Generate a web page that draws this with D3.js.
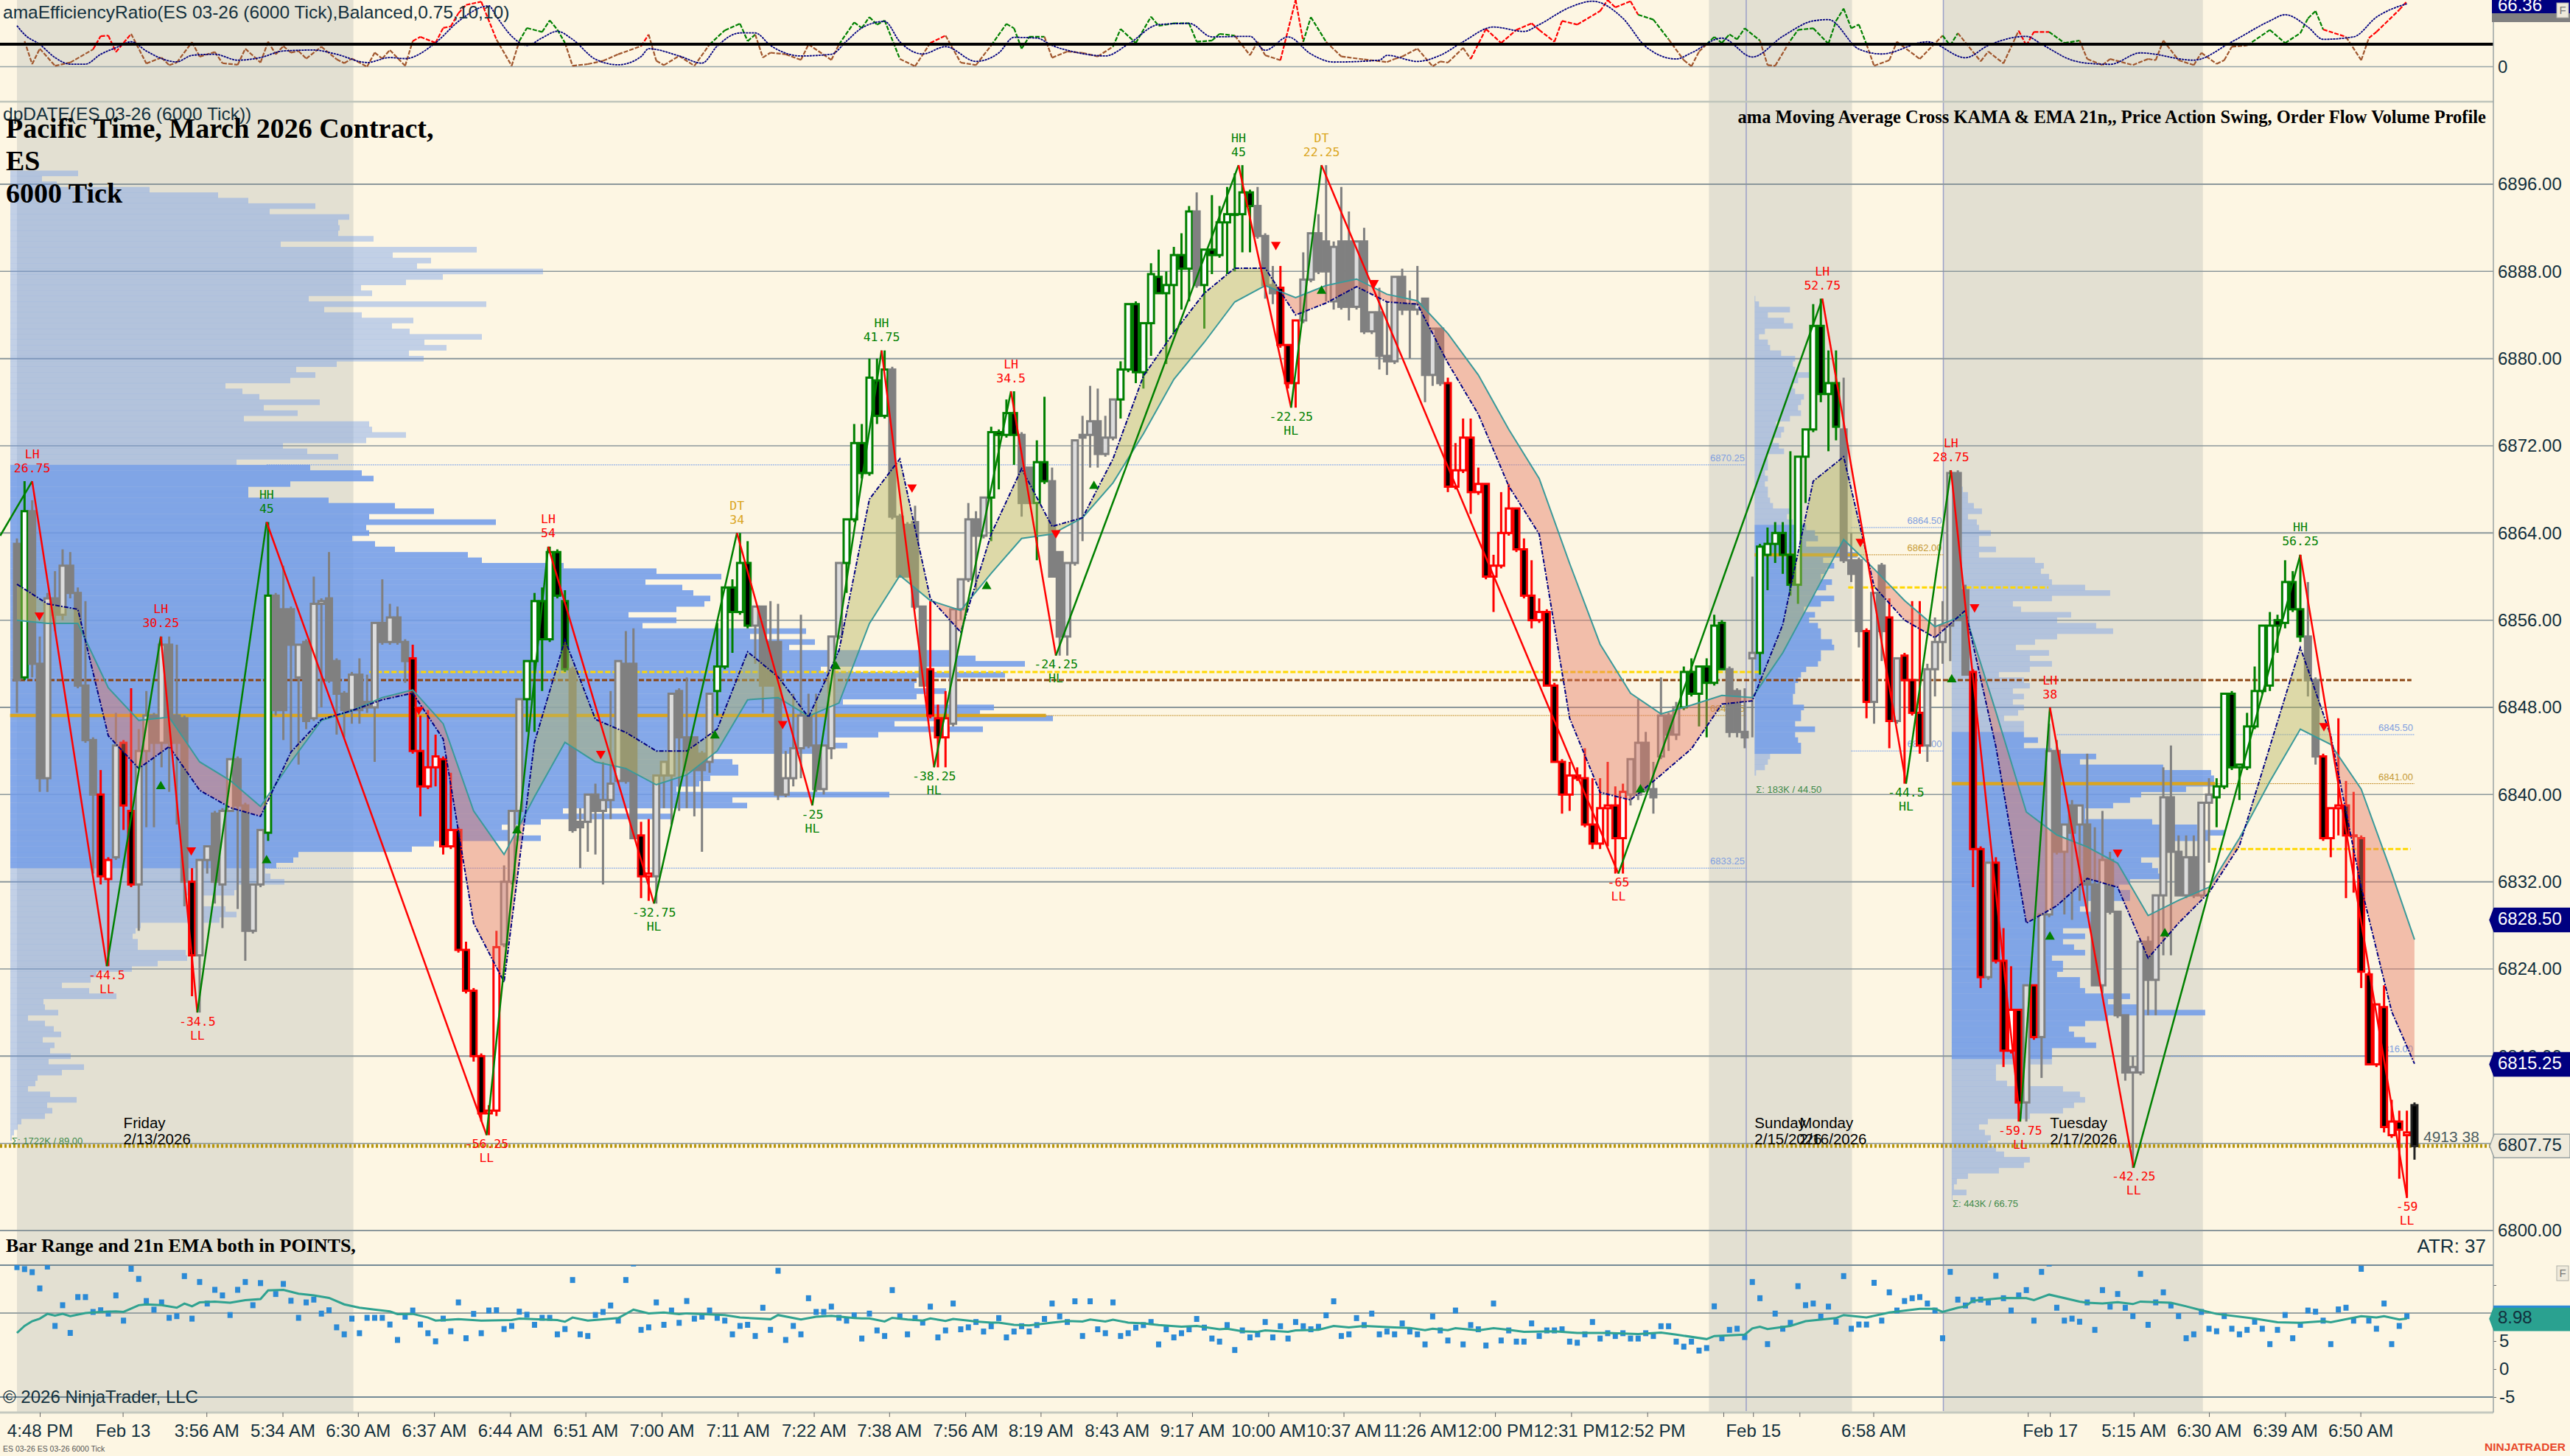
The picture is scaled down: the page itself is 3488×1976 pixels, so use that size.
<!DOCTYPE html>
<html>
<head>
<meta charset="utf-8">
<title>ES 03-26 6000 Tick</title>
<script src="https://cdn.jsdelivr.net/npm/d3@7"></script>
<style>
  body { margin: 0; background: #fdf6e3; }
  svg { display: block; font-family: "Liberation Sans", Arial, sans-serif; }
</style>
</head>
<body>
<svg id="chart" width="3488" height="1976"></svg>
<script>
//Candles: open, high, low, close, trend (n neutral, g up swing, r down swing, k live bar)
const candles = [
[6863,6863.5,6847.5,6850.5,"n"],[6850.75,6868.75,6850.5,6866,"g"],[6866,6867,6850.75,6852,"n"],[6852,6854.5,6840.25,6841.5,"n"],[6841.5,6858.5,6840.25,6858,"n"],
[6858,6860.5,6855,6856.5,"n"],[6856.5,6862.5,6856,6861,"n"],[6861,6862.25,6858,6858.5,"n"],[6858.5,6859,6849.75,6850,"n"],[6850,6857.75,6844.75,6845,"n"],
[6845,6845.25,6832.75,6840,"n"],[6840,6842.25,6831.75,6832.5,"r"],[6832.25,6834.25,6824.25,6834,"r"],[6834.25,6847.5,6834,6844.5,"n"],[6844.75,6845,6836.75,6839,"r"],
[6838.5,6849.75,6831.5,6831.75,"r"],[6831.75,6846,6827.5,6844,"n"],[6844,6849.5,6837,6847.25,"n"],[6847.25,6847.5,6837,6844.75,"n"],[6844.75,6854.5,6842.5,6853.75,"n"],
[6853.75,6854.5,6840.25,6844.75,"n"],[6847.25,6853.75,6837.25,6844.75,"n"],[6847,6847.25,6829.75,6832,"n"],[6832,6833.25,6821.5,6825.25,"r"],[6825.25,6834,6820,6834,"n"],
[6834,6835.25,6832.75,6835.25,"n"],[6838.25,6838.5,6830,6832,"n"],[6831.75,6838.75,6827.75,6838.5,"n"],[6838.5,6843.25,6838.5,6843.25,"n"],[6843.25,6843.5,6829.5,6839,"n"],
[6839,6839.25,6824.75,6827.5,"n"],[6827.5,6831.75,6827.25,6831.75,"n"],[6831.75,6836.75,6831.5,6836.75,"n"],[6836.5,6865,6835.75,6858.25,"g"],[6858.25,6858.5,6847.25,6847.75,"n"],
[6857,6861,6845,6847.75,"n"],[6857,6857.25,6844,6853.75,"n"],[6850.75,6853.75,6842.75,6853.75,"n"],[6854,6854.25,6846,6846.75,"n"],[6847,6860,6846.75,6857.5,"n"],
[6857.5,6858,6848,6857.75,"n"],[6858,6862.25,6850.25,6850.5,"n"],[6852.25,6852.5,6845.5,6849.25,"n"],[6849.25,6849.5,6845.25,6847.75,"n"],[6847.75,6851.25,6846.5,6851,"n"],
[6851,6852.5,6846.5,6847.75,"n"],[6848.5,6851,6847.5,6848,"n"],[6848,6855.75,6843,6855.75,"n"],[6855.75,6859.75,6853.75,6854,"n"],[6854,6857.5,6853.75,6856.25,"n"],
[6856.25,6857.25,6853.75,6854,"n"],[6854,6854.25,6850.25,6852.25,"n"],[6852.5,6853.75,6843.75,6844,"r"],[6844,6847.25,6838,6840.75,"r"],[6840.75,6847.75,6840.5,6842.5,"r"],
[6842.5,6845.5,6840.75,6843.5,"r"],[6843.25,6843.5,6834.5,6835.25,"r"],[6835.25,6842,6835,6836.75,"r"],[6836.75,6837,6825.5,6825.75,"r"],[6825.75,6826.5,6821.75,6822,"r"],
[6822,6822.25,6815.5,6816,"r"],[6816,6816.25,6810,6810.75,"r"],[6810.75,6811.5,6808.75,6811,"r"],[6811,6827.5,6810.5,6826,"r"],[6826.25,6833.5,6826,6832,"n"],
[6832,6838.5,6831.75,6838.5,"n"],[6838.5,6848.75,6836.75,6848.75,"n"],[6848.75,6852.25,6845.75,6852.25,"g"],[6852.25,6858.5,6845.75,6857.75,"g"],[6857.75,6859,6849.5,6854.25,"g"],
[6854.25,6862.75,6854,6862.25,"g"],[6862.25,6862.5,6858,6858.25,"g"],[6857.75,6858.75,6851.25,6851.5,"g"],[6851.5,6851.75,6836.5,6836.75,"n"],[6837.5,6838.75,6833.25,6837,"n"],
[6837.5,6840,6834.75,6840,"n"],[6840,6841,6834.5,6838.5,"n"],[6838.5,6843,6831.75,6839.5,"n"],[6839.5,6849.5,6837.75,6841,"n"],[6841.25,6852.25,6841,6852.25,"n"],
[6852,6855,6841,6841.25,"n"],[6852,6855.25,6836,6836,"n"],[6836.25,6837.5,6830.5,6832.5,"r"],[6832.5,6837.75,6830.25,6832.75,"r"],[6832.5,6841.75,6830,6841.75,"n"],
[6841.75,6843,6838.75,6843,"n"],[6841.75,6849.25,6837.25,6849.25,"n"],[6849.5,6849.75,6838.5,6845.25,"n"],[6845.25,6850.75,6838.75,6842.25,"n"],[6845.25,6845.25,6838,6842.25,"n"],
[6843.75,6844,6834.75,6842.25,"n"],[6843,6849.25,6842,6849.25,"n"],[6849.5,6855.75,6847.25,6851.75,"g"],[6851.75,6859,6851.5,6859,"g"],[6859,6859.75,6853,6856.75,"g"],
[6856.75,6864,6856.5,6861.25,"g"],[6861.25,6863.25,6855.25,6855.5,"g"],[6855.5,6857.25,6852,6857.25,"n"],[6857.25,6857.25,6847.5,6850,"n"],[6854,6857.75,6850,6850,"n"],
[6854,6857.5,6839.5,6840,"n"],[6840,6844,6839.75,6841.5,"n"],[6841.5,6849.25,6840.75,6844.25,"n"],[6844.25,6856.5,6841.5,6847.25,"n"],[6847.25,6849.25,6844.25,6844.5,"n"],
[6844.5,6849.25,6840.25,6840.5,"n"],[6840.5,6844.5,6840,6844.5,"n"],[6844.25,6854.5,6843.25,6854.5,"n"],[6854.5,6861.25,6854.25,6861.25,"n"],[6861.25,6865.25,6858.5,6865.25,"g"],
[6865.25,6874,6865,6872.25,"g"],[6872.25,6874,6869,6869.5,"g"],[6869.5,6880,6869.25,6878.25,"g"],[6878,6880,6874,6874.75,"g"],[6874.75,6880.75,6874.5,6879,"g"],
[6879,6879.25,6865.25,6865.5,"n"],[6865.5,6865.75,6860,6860,"n"],[6864.75,6865,6860,6860,"n"],[6865,6866.5,6857,6857.25,"n"],[6857.25,6857.25,6850,6850,"n"],
[6851.5,6857.75,6847,6847.25,"r"],[6847,6848.25,6842.5,6845.25,"r"],[6845.25,6849.5,6842.5,6847,"r"],[6846.5,6857,6846.25,6857,"n"],[6857,6859.75,6856,6859.75,"n"],
[6859.75,6866.75,6859.5,6865.25,"n"],[6865.25,6866,6858.75,6863.75,"n"],[6863.75,6867.25,6863.5,6867.25,"n"],[6867.25,6873.75,6863.25,6873.25,"g"],[6873.25,6873.5,6868,6873,"g"],
[6873,6876.25,6872.75,6875,"g"],[6875,6877,6870.25,6873,"g"],[6873,6873.25,6865.5,6866.75,"n"],[6870,6870,6866.75,6866.75,"n"],[6866.75,6872.5,6861.5,6870.5,"g"],
[6870.5,6876.5,6868.5,6868.75,"g"],[6868.75,6870,6860,6860,"n"],[6862.25,6862.25,6852.75,6854.5,"n"],[6854.5,6861.25,6852.75,6861.25,"n"],[6861.25,6872.5,6861,6872.5,"n"],
[6873,6874.75,6863.25,6872.75,"n"],[6873,6877.5,6870,6874.25,"n"],[6874.25,6877.25,6870,6871.25,"n"],[6871.25,6874.75,6871,6872.75,"n"],[6872.75,6876.25,6872.5,6876.25,"n"],
[6876.25,6879.75,6874.5,6879,"g"],[6879,6885,6878.75,6885,"g"],[6885,6885.25,6877.75,6878.75,"g"],[6878.75,6883.25,6877.25,6883.25,"g"],[6883.25,6888.75,6880.25,6887.75,"g"],
[6887.5,6890,6886,6886,"g"],[6886,6888,6879.5,6886.75,"g"],[6886.75,6890.25,6882.25,6889.5,"g"],[6889.5,6891.5,6884.5,6888.25,"g"],[6888.25,6894,6885.25,6893.5,"g"],
[6893.5,6895.25,6886.5,6886.75,"n"],[6886.75,6890,6882.75,6890,"g"],[6890,6895,6887.75,6889.5,"g"],[6889.5,6894,6889.25,6892.5,"g"],[6892.5,6895.75,6887.75,6893.25,"g"],
[6893.25,6897,6888,6893.25,"g"],[6893.25,6897.75,6889.75,6895.25,"g"],[6895.25,6895.5,6889.75,6894,"g"],[6894,6895.75,6891,6891.25,"n"],[6891.25,6891.5,6885.5,6886.75,"n"],
[6886.75,6888.5,6885,6886,"n"],[6886.5,6888.5,6881,6881.25,"r"],[6881.25,6881.25,6877.25,6877.75,"r"],[6877.75,6883.5,6875.5,6883.5,"r"],[6883.5,6889.75,6883.25,6887.25,"n"],
[6887.25,6891.5,6887,6891.5,"n"],[6891.5,6893.25,6887.75,6888,"n"],[6890.75,6897.75,6885.25,6888,"n"],[6885.25,6890.75,6884.5,6890.25,"n"],[6890.75,6895.75,6884.5,6884.75,"n"],
[6890.75,6893.5,6883.5,6884.75,"n"],[6884.75,6890.75,6884.5,6890.75,"n"],[6890.75,6892,6882.25,6882.5,"n"],[6882.5,6884.25,6882.25,6884.25,"n"],[6884.25,6886.5,6879,6880.25,"n"],
[6880.25,6885.25,6878.5,6879.75,"n"],[6879.75,6887.5,6879.5,6887.5,"n"],[6887.5,6888.25,6884,6884.5,"n"],[6885,6886.25,6880,6884.5,"n"],[6884.5,6888.5,6884,6885,"n"],
[6885.5,6885.5,6876,6878.5,"n"],[6878.5,6882.75,6877.5,6882.75,"n"],[6882.75,6882.75,6877.5,6877.75,"n"],[6877.75,6878.25,6867.75,6868.25,"r"],[6868.25,6872.25,6868,6869.75,"r"],
[6869.75,6874.5,6869.5,6872.75,"r"],[6872.75,6874.5,6865.75,6867.75,"r"],[6867.75,6870,6867.5,6868.5,"r"],[6868.5,6868.5,6859.75,6860,"r"],[6860,6862,6856.75,6861,"r"],
[6861,6867.75,6860.75,6864,"r"],[6864,6868.5,6863.75,6866.25,"r"],[6866.25,6866.25,6862.25,6862.5,"r"],[6862.5,6863.5,6858,6858.25,"r"],[6858.25,6861.5,6855.25,6856,"r"],
[6856,6858,6855.75,6856.75,"r"],[6856.75,6857,6850,6850,"r"],[6850,6850.25,6843,6843,"r"],[6843,6843.25,6838.25,6840,"r"],[6840,6843,6838.5,6841.75,"r"],
[6841.75,6842.5,6841.25,6841.5,"r"],[6841.5,6844.25,6837,6837.25,"r"],[6837.25,6841.5,6835,6835.5,"r"],[6835.5,6841.5,6835,6838.75,"r"],[6838.75,6843,6835.25,6839,"r"],
[6839,6840.75,6832.75,6836,"r"],[6836,6841,6832.75,6840.25,"r"],[6840,6843.25,6839,6843.25,"n"],[6840,6848.75,6839.5,6844.75,"n"],[6844.75,6845.75,6840.25,6840.5,"n"],
[6840.5,6843,6838.25,6839.75,"n"],[6843.5,6850.75,6843.25,6847.25,"n"],[6847.25,6847.5,6844,6845.5,"n"],[6845.5,6848.5,6845,6848,"n"],[6848,6851.75,6847.75,6851.25,"g"],
[6851.25,6852.5,6849,6849.25,"g"],[6849.25,6851.75,6846.25,6851.75,"g"],[6851.75,6852.5,6845.25,6850.25,"g"],[6850.25,6856.5,6850,6855.5,"g"],[6855.75,6856,6851.5,6851.5,"g"],
[6851.5,6851.75,6845.25,6845.75,"n"],[6849.5,6849.75,6845.25,6845.75,"n"],[6845.75,6849.75,6844.25,6845.25,"n"],[6852.5,6860,6845.25,6853,"n"],[6853,6863,6851,6862.75,"g"],
[6862,6864.5,6858.75,6863,"g"],[6863,6865,6861.25,6864,"g"],[6864,6865,6860.25,6862,"g"],[6862,6871.5,6858.25,6859.25,"g"],[6859.25,6871,6857.5,6871,"g"],
[6871,6873.5,6866.75,6873.5,"g"],[6873.5,6885,6873.25,6883,"g"],[6883,6885.5,6876,6876.75,"g"],[6876.75,6880.75,6871.5,6877.75,"g"],[6877.75,6880.75,6872.5,6873.75,"g"],
[6873.5,6878.25,6861.25,6861.5,"n"],[6861.5,6864,6859.5,6860.25,"n"],[6861.5,6861.75,6853.5,6855,"n"],[6855,6855.25,6847,6848.5,"r"],[6848.5,6858.5,6846.5,6858.5,"n"],
[6861,6861.25,6852.25,6855,"n"],[6856.25,6858,6844.25,6846.75,"r"],[6846.75,6852.5,6846.5,6852.5,"n"],[6852.75,6853,6841,6850.5,"r"],[6850.5,6857.75,6847.25,6847.5,"r"],
[6847.5,6857.75,6843.75,6844.5,"r"],[6844.5,6852,6843,6851.5,"n"],[6851.5,6856.25,6849,6854,"n"],[6854,6857.75,6852,6855.5,"n"],[6855.5,6869.75,6852.25,6869.5,"n"],
[6869.5,6869.75,6856,6856,"n"],[6858.75,6859.25,6851,6851,"n"],[6851.25,6851.5,6831.5,6835,"r"],[6835,6835.25,6822.25,6823.25,"r"],[6823.25,6833.75,6823,6833.75,"n"],
[6833.75,6834.25,6824.5,6824.75,"r"],[6824.75,6827.75,6815,6816.5,"r"],[6816.5,6824.25,6816.25,6820.25,"r"],[6820.25,6820.25,6810,6811.75,"r"],[6811.75,6822.5,6810,6822.5,"n"],
[6822.5,6822.5,6817.5,6817.75,"r"],[6817.75,6829,6814,6829,"n"],[6829,6846.5,6828.75,6844,"n"],[6844,6845,6834.5,6834.75,"n"],[6834.75,6837.25,6829,6837.25,"n"],
[6839,6839.5,6828.5,6836.5,"n"],[6837.25,6839,6830.25,6839,"n"],[6837.25,6843.75,6829,6831.75,"n"],[6831.75,6837,6825.5,6822.5,"n"],[6822.5,6838.5,6821.75,6834,"n"],
[6834,6834.75,6829,6829.25,"n"],[6829.25,6829.25,6819.5,6819.75,"n"],[6819.75,6819.75,6813.75,6814.5,"n"],[6814.5,6816,6805.75,6815,"n"],[6814.5,6826.5,6814.25,6826.5,"n"],
[6826.5,6827,6819.75,6823,"n"],[6823,6830.75,6819.75,6830.75,"n"],[6830.75,6842.5,6825.25,6839.75,"n"],[6839.75,6844.5,6825.25,6834.75,"n"],[6834.75,6836.25,6830.75,6830.75,"n"],
[6830.75,6836.25,6830.5,6834.25,"n"],[6834.25,6836.25,6830.5,6830.75,"n"],[6830.75,6839.25,6830.5,6839.25,"n"],[6839.25,6841.5,6833.75,6840,"n"],[6839.75,6841.5,6837,6840.75,"g"],
[6840.75,6849.25,6840.5,6849.25,"g"],[6849.25,6849.5,6842.25,6842.5,"g"],[6842.5,6842.75,6839.5,6842.75,"g"],[6842.5,6847.5,6842.25,6846.25,"g"],[6846.25,6851.75,6846,6849.5,"g"],
[6849.5,6855.5,6849.25,6855.5,"g"],[6850,6856.75,6849.5,6855.5,"g"],[6856,6856.5,6853,6855.5,"g"],[6855.75,6861.5,6855.25,6859.5,"g"],[6859.5,6860.5,6856.75,6857,"g"],
[6857,6862,6854,6854.5,"g"],[6854.5,6859.5,6849,6850.5,"n"],[6850.5,6850.75,6842.75,6843.5,"n"],[6843.5,6843.75,6835.75,6836,"r"],[6836,6838.75,6834.25,6838.75,"r"],
[6838.75,6847,6836.25,6839,"r"],[6839,6841.25,6830.5,6836.25,"r"],[6836.25,6840.25,6831,6836.25,"r"],[6836,6836.25,6822.25,6823.75,"r"],[6823.5,6823.75,6815.25,6815.25,"r"],
[6815.25,6820.75,6815,6820.75,"r"],[6820.5,6822.5,6809,6809.5,"r"],[6808.75,6812,6808.5,6810,"r"],[6810,6811,6804.75,6809.25,"r"],[6808.75,6811,6803,6809,"r"],
[6811.5,6811.75,6806.5,6807.75,"k"]
];

//KAMA and 21n EMA, read every fourth bar
const maBars = d3.range(0, 316, 4).concat([315]);
const kamaValues = [6859.3,6857.5,6857,6845.4,6842.4,6844.4,6840.4,6838.8,6838,6843.9,6846.9,6847.7,6848.7,6849.3,6845.1,6828.2,6822.8,6844.8,6854.2,6846.9,6845.7,6844,6844,6846,6853.1,6850.8,6847.1,6853.2,6867.1,6870.8,6858,6854.9,6863.9,6869.9,6864.6,6865.4,6870.8,6878.4,6882.4,6886,6888.3,6888.3,6884,6885.1,6886.6,6885.2,6885,6879.6,6874.9,6868.3,6863.9,6847,6840.2,6839.5,6841.8,6844.2,6848.3,6848.6,6855.6,6868.75,6871,6859.1,6856,6854.4,6856.9,6844.4,6828.2,6829.8,6832.3,6831.5,6825,6828.2,6831,6835.3,6844.4,6853.5,6845.4,6831.5,6820.1,6815.3];
const emaValues = [6856,6855.7,6855.7,6849.8,6846.8,6847.1,6843,6841.3,6838.9,6843,6846.8,6847.7,6848.9,6849.6,6846.5,6838.5,6834.5,6839.8,6844.8,6843,6842.4,6840.9,6841.8,6844,6848.7,6848.9,6847.2,6848.4,6855.7,6860.1,6857.8,6856.9,6860.3,6863.5,6863.9,6865.4,6868.6,6873.1,6878.1,6881.5,6885.2,6886.7,6885.6,6886.7,6887.3,6885.9,6885.3,6882.3,6878.5,6873.5,6869,6861.2,6853.8,6849.3,6847.4,6848.2,6849.1,6848.9,6853,6858.2,6863.4,6860.7,6857.8,6855.4,6856.5,6847.6,6838.4,6836.3,6835.2,6833.7,6828.9,6830.3,6831.5,6836,6841.2,6846,6844.6,6840.5,6832.8,6826.7];

//Price action swings
const swingBars = [2,11.8,18.9,23.7,32.8,61.7,69.8,83.7,94.6,104.5,113.6,120.5,130.6,136.5,160.5,167.4,171.4,210.4,237.2,248.2,254.1,263.2,267.1,278.1,300,314];
const swingPrices = [6868.75,6824.25,6854.5,6820,6865,6808.75,6862.75,6830,6864,6839,6880.75,6842.5,6877,6852.75,6897.75,6875.5,6897.75,6832.75,6885.5,6841,6869.75,6810,6848,6805.75,6862,6803];
const swingTags = ["LH","LL","LH","LL","HH","LL","LH","HL","DT","HL","HH","HL","LH","HL","HH","HL","DT","LL","LH","HL","LH","LL","LH","LL","HH","LL"];
const swingMoves = ["26.75","-44.5","30.25","-34.5","45","-56.25","54","-32.75","34","-25","41.75","-38.25","34.5","-24.25","45","-22.25","22.25","-65","52.75","-44.5","28.75","-59.75","38","-42.25","56.25","-59"];
const swingLeadIn = [-2.2, 6863.75];

//MA cross triangles
const crossDownBars = [2.95,22.9,52.8,76.7,100.6,117.6,136.5,165.4,178.3,242.2,257.2,276,303.1];
const crossDownPrices = [6856.45,6834.9,6847.8,6843.75,6846.5,6868.2,6864,6890.45,6886.95,6863.2,6857.2,6834.7,6846.3];
const crossUpBars = [18.9,32.8,65.7,91.7,107.6,141.5,127.4,171.4,213.3,254.2,267.1,282.2];
const crossUpPrices = [6840.75,6833.95,6836.7,6845.4,6851.75,6868.3,6859.1,6886.2,6840.45,6850.55,6826.95,6827.25];

//Order flow volume profiles, rows half a point apart
const profileOneTop = 6897;
const profileOneVolume = [9.2,4.3,6.3,18.9,28.2,32.3,41.4,35.2,46,44.5,44.7,44.5,49.3,36.7,63.3,51.9,57.1,55.2,72.3,58.7,53.7,47.6,49.1,40.5,64.6,42.6,47.7,54.7,51.8,54.2,64,56.2,59.2,54.1,56.1,44.3,38.8,41.4,38,29.2,31.5,33.8,42,34.4,39,31.7,48.7,49.1,53.7,48.3,37,40.3,44.5,30.7,40.7,47.7,49.3,38,32.3,32.3,43.2,52.2,57.5,
48.7,65.9,48.3,48.7,46.4,49.5,52.2,62.1,64,75.1,87.7,96.5,86.2,91.2,92.7,95,94.2,90.4,83.9,90.4,85.8,108,100.4,109.2,105.7,
128,131,137.7,110,135,123,122.7,127,123,113,133.5,131.6,141.5,120,132,117.8,111.6,113.6,109,94.2,98,98.8,98.8,95,93.5,90.4,119.3,98,100,75,89.6,72,66.7,67.5,72,57.5,54.5,39.1,38.4,36.1,34.6,
35.3,37.2,30.7,30.4,23.8,23.8,29.2,30.7,28.4,17.7,17,16.6,17.3,17.3,23.8,24,20,16.5,11.7,10.9,7,10.7,14.4,4.5,4.7,6.5,2.4,4.7,5.9,6.9,4.4,6,5.4,8.2,5.2,10,7,3.7,3.4,2.4,5.4,9,5,5.7,4.7,1.5,1,0.5,0.2];
const profileTwoTop = 6885.5;
const profileTwoVolume = [0.1,0.6,4.8,1.8,4,5.2,1.4,0.6,1.8,2.1,3.6,5.5,5.2,5.5,7.4,5.9,5.2,5.5,6.7,6.3,5.9,6.3,4.8,2.9,4,3.6,2.5,3.3,4,1.8,1.8,1.8,1.4,1.8,1.4,1.8,1.8,2.1,2.5,4.8,4.4,5.2,7,8.2,8.6,7,11.6,13.9,9.3,10.8,9.7,9,
10.5,9.7,8.2,10.8,9,6.7,8.2,7.4,8.6,9,9,10.5,10.8,9,9,8.6,7,6.3,5.9,5.5,5.5,5.2,5.2,6.7,6.3,6.3,5.5,8.2,5.5,5.9,6.3,6.3,2.1,1.8,1.4,0.2];
const profileThreeTop = 6868;
const profileThreeVolume = [1.5,2.2,2.2,3,4.1,2.2,3.4,3.7,5.3,3.7,3.7,6,3.7,11.3,12.5,12.1,13.2,13.6,18.1,21.5,13.6,8.3,9.4,16.2,14.3,19.6,21.9,14.3,11.3,8.7,13.2,10.6,13.6,10.6,6.4,9.8,10.6,8.3,9.8,8.3,9.8,9,7.1,9.8,9.8,9.8,
11.7,9.8,13.6,19.6,17.4,28.7,35.2,35.6,35.6,31.8,25.7,24.2,21.9,18.1,18.1,27.2,33.3,37.1,34.8,28.7,28.7,28.7,25.7,27.2,28,28.7,24.2,22.7,24.2,24.2,18.1,17.4,18.9,19.6,19.6,15.1,18.1,15.1,16.6,18.1,13.6,15.1,15.1,14.3,17.4,17.4,18.1,24.2,21.2,25.7,34.4,21.2,18.1,15.9,16.6,18.1,19.6,13.6,13.6,
13.6,6,6,6,7.5,15.1,17.4,18.1,16.6,15.1,10.6,4.9,3.7,4.5,5.3,4.9,6,7.1,10.6,9.8,6.4,2.2,0.7,0.3,2,0.1];
const profileOneArea = [6833.25, 6870.25];
const profileTwoArea = [6844, 6864.5];
const profileThreeArea = [6816, 6845.5];

//Bar range dots and its 21n EMA
const barRangeValues = [18.2,17.85,17.3,14.4,18.3,7.7,11.4,6.45,12.85,12.85,10.2,10.5,9.9,13.15,8.65,17.9,16.1,12.15,10.6,11.9,9.15,9.45,16.6,9,15.55,11.7,14.15,13.15,9.65,14.15,15.55,11.4,15.35,19.5,13.4,15.2,12.2,9.15,11.9,12.4,9.9,10.5,7.45,6.2,9,6.4,9.15,9.15,9.15,7.95,5.2,9.35,10.45,7.95,6.4,4.95,9,6.75,11.9,5.5,9.85,6.4,10.45,10.5,7.15,7.7,10.25,9.7,7.9,9.15,9.15,6.2,7.15,15.9,6.2,5.9,9.65,10.2,11.35,8.65,15.9,18.85,7,7.45,11.9,7.9,10.45,8.25,12.15,9,9.35,10.45,9.15,8.65,6.2,7.7,7.9,5.9,10.95,7,17.55,5.2,7.7,6.2,12.65,10.2,10.2,11.15,9.15,8.65,
9.6,5.45,9.9,6.9,5.9,14.1,9.4,6.2,9.1,8.3,11.15,5.65,6.9,11.7,7.1,7.45,8.4,6.7,7.65,9.1,5.65,6.7,7.65,6.7,7.85,8.95,11.7,9.4,8.4,12.1,5.9,12.1,7.1,6.4,11.9,5.9,6.4,7.4,7.85,8.4,4.4,7.1,5.65,6.4,7.1,8.95,7.4,5.45,4.9,7.85,3.4,6.9,5.65,6.2,8.4,5.65,7.65,5.45,8.4,7.65,7.1,7.55,9.6,12.1,5.9,6.2,9.1,7.85,9.9,6.2,6.7,6.2,8.15,6.7,6.2,4.4,9.4,6.9,5.1,10.45,4.4,7.85,7.1,4.2,11.7,5.1,6.9,4.9,4.9,8.15,5.9,6.9,6.9,7.1,4.9,4.7,6.2,8.4,5.45,6.4,5.9,6.4,5.45,5.45,6.4,5.9,7.65,7.65,4.9,4,4.9,
3.3,3.75,11.2,5.5,7,7.2,5.7,15.55,12.65,4.45,9.9,7.2,8.25,14.8,11.4,11.7,9.35,11.15,8.45,16.6,7.2,7.95,7.95,15.4,8.65,13.7,10.45,12.15,12.65,12.85,11.7,10.45,5.5,17.35,12.4,11.35,12.3,12.4,11.9,16.65,12.65,10.45,13.15,14.1,8.65,17.35,18.85,10.95,8.65,9,8.45,11.9,7,14.1,11.15,13.4,10.95,9.45,17,7.9,11.9,13.7,11.35,9.45,5.5,6.2,10.2,7.2,6.75,9.45,7.2,6.2,7,8.45,7.2,4.45,7,9.65,5.5,7.9,10.45,10.25,8.65,4.45,10.65,10.95,8.65,17.9,8.65,7.2,11.7,4.45,7.7,9.45];
const rangeEmaBars = [0,1,2,3,4,5,6,7,9,11,13,14,16,17,19,21,22,23,24,26,28,30,32,33,35,37,39,41,43,45,49,50,52,54,55,58,61,65,66,71,72,73,75,79,81,83,85,87,88,93,95,99,100,103,105,107,110,111,112,114,115,117,119,120,122,123,125,126,128,129,131,133,136,138,140,141,143,144,146,148,150,153,155,158,159,161,163,164,167,168,171,173,175,177,181,183,185,186,188,189,192,194,196,198,202,205,209,213,216,218,222,223,227,228,229,230,233,235,239,240,243,245,246,250,252,253,255,256,257,261,264,265,267,271,272,274,276,278,279,283,285,287,289,294,297,300,303,304,308,310,311,313,314];
const rangeEmaValues = [6.45,7.7,8.55,9,9.85,9.55,9.85,9.45,10,10.2,10.3,10.2,11.4,11.55,11.4,10.95,11.7,11.2,11.9,12.05,11.85,12.3,12.5,14.05,14.15,13.45,13.15,12.7,11.55,10.95,10.3,9.8,9.85,9.2,8.65,8.9,8.65,8.75,9,8.75,8.45,9.2,8.65,9.1,10.6,9.95,10.1,9.8,9.95,9.65,9.2,8.9,9.65,8.85,9.35,9.5,9.1,9.05,9.05,8.5,9.15,8.85,8.65,9.05,8.6,8.95,8.65,8.5,8.3,8.3,7.9,7.8,8.3,8.6,8.5,8.85,8.5,8.8,8.3,8.15,7.85,7.55,7.7,7.1,7.2,6.75,6.65,6.9,6.65,6.9,7,7.7,7.45,7.7,7.45,7.35,6.95,7.2,6.95,7.3,6.9,7.3,7,6.65,6.75,6.45,6.45,6.25,6.5,6.15,5.35,5.9,6.15,7.25,7.55,7.15,7.7,8.55,9.1,9.65,9.2,9.8,10.1,10.75,10.75,10.2,10.95,11.2,12.2,12.7,12.65,12.3,13.3,12.05,11.85,11.7,11.95,11.6,12.05,11.85,11.2,10.5,9.85,9,8.35,8.25,8.55,8.35,9.45,9.2,9.45,8.85,9];

//Efficiency ratio and its signal
const ratioBars = [1,2,3,5,7,10,11,12,13,15,17,19,20,21,23,24,26,27,29,30,32,33,34,35,36,37,38,40,42,43,44,46,47,48,49,51,52,53,55,56,57,58,59,61,63,65,66,67,69,70,71,72,73,75,77,79,82,83,84,85,87,89,91,93,95,96,97,98,99,101,103,104,107,108,110,111,112,113,114,116,118,120,122,124,126,128,130,131,132,133,135,136,138,140,142,144,145,147,149,150,152,154,155,157,158,160,162,163,164,166,168,169,170,172,174,177,180,181,182,184,186,187,188,190,191,193,195,197,199,200,202,203,205,208,209,210,212,213,215,217,219,220,221,222,223,224,225,226,227,229,230,231,233,234,236,238,239,240,241,242,243,244,246,247,250,253,254,255,258,259,261,263,264,265,267,269,271,272,274,275,278,280,281,282,284,286,287,289,290,291,293,296,298,300,301,302,303,306,308,309,310,313,314];
const ratioValues = [27.3,2.8,19.2,1,4.5,18.5,32.6,33.2,15.7,35,3.5,9.8,1.7,4.5,26.2,10.8,15.7,3.8,2.1,19.2,4.5,26.6,13.3,22,15,16.8,8.7,21.3,8,3.8,8.7,0,15,8.7,17.8,1,27.3,31.8,25.5,41.3,43,57,65.8,69.3,29,1,27.3,41.3,37,49.4,39.5,25.5,1,2.8,6.3,13.3,22,34.3,6.3,1.7,11.5,1,23.8,38.8,45.9,27.3,34.3,9.8,15,13.3,7.3,23.8,7.3,23.8,47.3,41.3,52.9,44.8,49.3,8.3,0.5,25.3,33.2,4.4,1.8,22.7,45.7,41,19.3,31.9,31.9,9.6,16.2,14.8,11,21.4,40.2,25.3,53.3,43.6,46.2,46.2,26.6,27.9,35,33.2,12.2,26.6,12.2,7.0,71.06,26.6,52.8,26.6,10.9,7.8,5,8.3,10.9,19.3,0.5,5.7,4.4,20.1,8.3,40.2,25.3,39.2,46.2,39.2,26.6,48.8,44.9,59.3,71,63.2,69.7,55.4,50.2,29.2,7,0.5,16.2,24,31.8,25.3,34.5,29.2,41,27.9,1.8,1,27.9,39.2,41,24.5,48.8,61.9,41,44.9,24,1,7,26.6,8.3,33.2,22.7,35.8,5.8,16.2,3.6,38.4,22.7,37.1,37.1,25.3,27.9,8.3,1.8,8.3,1.8,8.3,7,27.9,7,1.8,14.8,3.1,7,21.4,22.7,39.2,25.3,35.8,51.5,59.3,39.7,31.8,7,30.5,37.1,60.6,69.7,52.8,69.7,59.3];
const ratioRedBars = [[10,15],[52,64],[82,84],[120,123],[164,168],[186,212],[243,251],[257,266],[276,279],[303,315]];
const signalBars = [0,1,3,5,7,9,11,13,15,17,19,21,23,26,29,32,35,39,42,46,49,51,55,58,62,63,65,67,69,71,73,76,79,82,83,87,90,92,95,97,99,103,107,109,111,114,116,119,122,126,129,131,134,136,139,143,146,150,154,157,162,164,167,170,173,179,180,184,187,190,194,198,200,204,207,211,214,218,220,224,228,232,236,238,242,245,251,256,259,264,266,270,273,275,279,286,291,296,298,301,303,307,310,314];
const signalValues = [43.7,34.3,23.8,9.8,2.8,2.8,13.3,20.3,26.6,16.8,8.7,5.2,12.2,13.3,7,9.8,16.8,17.8,13.3,4.5,9.8,8.7,25.5,48.3,64.8,53.5,32.6,22.7,30.8,37.8,29.1,8,2.1,10.8,19.2,11.5,3.8,22,36,36,22.7,11.5,13.3,27.3,41.3,48.3,26.6,13.6,21.4,5.7,14.8,31.3,30.5,22.7,15.6,11.5,24,44.9,46.2,31.8,32.4,17.5,31.8,13.6,5,7,12.2,5.7,12.2,26.6,42.3,37.6,44.9,63.2,69.75,51.5,21.4,8.3,14.8,30.5,10.4,32.4,48.8,50.2,18.8,13.6,26.6,9.6,22.7,32.4,24,7,3.1,2.6,14.8,7,26.6,48.8,55.4,42.3,29.2,31.8,52.8,67.1];

//Axis labels
const priceTicks = d3.range(6800, 6897, 8);
const timeTickBars = [3,13.9,24.9,34.9,44.8,54.8,64.8,74.7,84.7,94.7,104.7,114.6,124.6,134.5,144.5,154.4,164.4,174.3,184.3,194.2,204.2,214.2,224.2,228.1,234.2,243.9,264.2,267.1,278.1,288,298,307.9];
const timeTickLabels = ["4:48 PM","Feb 13","3:56 AM","5:34 AM","6:30 AM","6:37 AM","6:44 AM","6:51 AM","7:00 AM","7:11 AM","7:22 AM","7:38 AM","7:56 AM","8:19 AM","8:43 AM","9:17 AM","10:00 AM","10:37 AM","11:26 AM","12:00 PM","12:31 PM","12:52 PM","","Feb 15","","6:58 AM","","Feb 17","5:15 AM","6:30 AM","6:39 AM","6:50 AM"];

//Session shading and day labels
const sessionBars = [[0,44.2],[222.3,241.1],[253.1,287.2]];
const sessionBreaks = [227.2,253.1];
const dayNames = ["Friday","Sunday","Monday","Tuesday"];
const dayDates = ["2/13/2026","2/15/2026","2/16/2026","2/17/2026"];
const dayBars = [14,228.3,234.2,267.1];

//Price levels
const closeLevel = 6807.75;
const brownLevel = 6850.5;
const yellowLevels = [[6851.25,46.3,229.3],[6859,240.6,266.9],[6835,288.3,314.5]];
const pocLevels = [[6847.25,-0.9,135.2,227.2,"6847.25"],[6862,228.3,241.9,253.1,"6862.00"],[6841,254.2,288.8,315,"6841.00"]];
const areaLevels = [[6870.25,32.8,227.2,"6870.25"],[6833.25,32.8,227.2,"6833.25"],[6864.5,241,253.1,"6864.50"],[6844,241,253.1,"6844.00"],[6845.5,268,315,"6845.50"],[6816,283,315,"6816.00"]];

//Setting up the svg
const svg = d3.select("#chart");
const width = 3488;
const chartRight = 3384;
const cream = "#fdf6e3";
const gridColor = "#8b979b";
const axisText = "#12303d";
const gold = "#daa520";

//Scales, x is the bar number
const x = d3.scaleLinear().domain([0, 315]).range([23, 23 + 10.33 * 315]);
const y = d3.scaleLinear().domain([6800, 6896]).range([1670, 250]);
const ratioY = d3.scaleLinear().domain([0, 66.36]).range([90.6, 6]);
const rangeY = d3.scaleLinear().domain([-5, 10]).range([1896, 1782]);
const volumeX = d3.scaleLinear().domain([0, 1]).range([0, 10]);

svg.append("rect").attr("width", width).attr("height", 1976).attr("fill", cream);

//Session shading
svg.append("g").selectAll("rect").data(sessionBars).join("rect")
  .attr("x", (d) => x(d[0]))
  .attr("width", (d) => x(d[1]) - x(d[0]))
  .attr("y", 0).attr("height", 1917)
  .attr("fill", "#e3e0d2");
svg.append("g").selectAll("line").data(sessionBreaks).join("line")
  .attr("x1", x).attr("x2", x).attr("y1", 0).attr("y2", 1915)
  .attr("stroke", "#9a9fc8").attr("stroke-width", 1.5);

//Grid lines
const hLine = (yPos, stroke, w) =>
  svg.append("line").attr("x1", 0).attr("x2", chartRight)
    .attr("y1", yPos).attr("y2", yPos)
    .attr("stroke", stroke).attr("stroke-width", w);
priceTicks.forEach((p) => hLine(y(p), gridColor, p % 16 === 0 ? 2 : 1.5));
hLine(138, "#bfc5bb", 2.5);
hLine(ratioY(0), "#98a5a8", 1.5);
hLine(1717, "#748a96", 2);
hLine(rangeY(10), "#9aa3a3", 2);
hLine(rangeY(-5), "#748a96", 2);
hLine(1917, "#c5c9bf", 3);

//Volume profiles
const drawProfile = (top, volumes, left, area) => {
  svg.append("g").selectAll("rect").data(volumes).join("rect")
    .attr("x", left)
    .attr("y", (d, i) => y(top - i * 0.5) - 3.7)
    .attr("width", (d) => volumeX(d))
    .attr("height", 7.6)
    .attr("fill", "#6f9aea")
    .attr("opacity", (d, i) => {
      const price = top - i * 0.5;
      return price >= area[0] && price <= area[1] ? 0.85 : 0.42;
    });
};
drawProfile(profileOneTop, profileOneVolume, 14, profileOneArea);
drawProfile(profileTwoTop, profileTwoVolume, x(228.3), profileTwoArea);
drawProfile(profileThreeTop, profileThreeVolume, x(254.2), profileThreeArea);

//Profile level lines with their small labels
areaLevels.forEach((d) => {
  svg.append("line").attr("x1", x(d[1])).attr("x2", x(d[2]))
    .attr("y1", y(d[0])).attr("y2", y(d[0]))
    .attr("stroke", "#6f9aea").attr("stroke-width", 1).attr("stroke-dasharray", "2 1");
  svg.append("text").attr("x", x(d[2]) - 2).attr("y", y(d[0]) - 5)
    .attr("text-anchor", "end").attr("font-size", 13).attr("fill", "#7f9fe0").text(d[3]);
});
pocLevels.forEach((d) => {
  svg.append("line").attr("x1", x(d[1])).attr("x2", x(d[2]))
    .attr("y1", y(d[0])).attr("y2", y(d[0]))
    .attr("stroke", gold).attr("stroke-width", 4.5);
  svg.append("line").attr("x1", x(d[2])).attr("x2", x(d[3]))
    .attr("y1", y(d[0])).attr("y2", y(d[0]))
    .attr("stroke", "#c08a20").attr("stroke-width", 1).attr("stroke-dasharray", "2 1");
  svg.append("text").attr("x", x(d[3]) - 2).attr("y", y(d[0]) - 5)
    .attr("text-anchor", "end").attr("font-size", 13).attr("fill", "#c59a35").text(d[4]);
});

//Dashed levels
const dashLevel = (price, x1, x2, stroke, w, dash) =>
  svg.append("line").attr("x1", x1).attr("x2", x2)
    .attr("y1", y(price)).attr("y2", y(price))
    .attr("stroke", stroke).attr("stroke-width", w).attr("stroke-dasharray", dash);
dashLevel(brownLevel, 17, x(314.6), "#8b4513", 3, "7 3");
yellowLevels.forEach((d) => dashLevel(d[0], x(d[1]), x(d[2]), "#ffd700", 3, "7 3"));
dashLevel(closeLevel, 0, chartRight + 14, "#b8960c", 5, "3 3");

//Candles
const trendColor = { n: "#808080", g: "#008000", r: "#ff0000", k: "#222222" };
const bodyFill = (d) => {
  const up = d[3] >= d[0];
  if (d[4] === "n") return up ? "#dcdcdc" : "#808080";
  return up ? "#ffffff" : "#000000";
};
const bars = svg.append("g").selectAll("g").data(candles).join("g");
bars.append("line")
  .attr("x1", (d, i) => x(i)).attr("x2", (d, i) => x(i))
  .attr("y1", (d) => y(d[1])).attr("y2", (d) => y(d[2]))
  .attr("stroke", (d) => trendColor[d[4]]).attr("stroke-width", 3);
bars.append("rect")
  .attr("x", (d, i) => x(i) - 4)
  .attr("width", 8)
  .attr("y", (d) => y(Math.max(d[0], d[3])))
  .attr("height", (d) => Math.max(1, Math.abs(y(d[0]) - y(d[3]))))
  .attr("fill", bodyFill)
  .attr("stroke", (d) => trendColor[d[4]]).attr("stroke-width", 3);

//MA cloud, split on the EMA so the two sides get their own colour
const maPoints = maBars.map((bar, i) => ({ bar, kama: kamaValues[i], ema: emaValues[i] }));
const defs = svg.append("defs");
defs.append("clipPath").attr("id", "above-ema").append("path").attr("d",
  d3.area().x((d) => x(d.bar)).y0(0).y1((d) => y(d.ema))(maPoints));
defs.append("clipPath").attr("id", "below-ema").append("path").attr("d",
  d3.area().x((d) => x(d.bar)).y0(1700).y1((d) => y(d.ema))(maPoints));
const cloud = d3.area().x((d) => x(d.bar)).y0((d) => y(d.kama)).y1((d) => y(d.ema));
svg.append("path").attr("d", cloud(maPoints)).attr("clip-path", "url(#above-ema)")
  .attr("fill", "#b5b560").attr("opacity", 0.45);
svg.append("path").attr("d", cloud(maPoints)).attr("clip-path", "url(#below-ema)")
  .attr("fill", "#e57a63").attr("opacity", 0.45);
svg.append("path").attr("fill", "none").attr("stroke", "#3a9a9a").attr("stroke-width", 2)
  .attr("d", d3.line().x((d) => x(d.bar)).y((d) => y(d.ema))(maPoints));
svg.append("path").attr("fill", "none").attr("stroke", "#000080").attr("stroke-width", 2)
  .attr("stroke-dasharray", "6 2 2 2")
  .attr("d", d3.line().x((d) => x(d.bar)).y((d) => y(d.kama))(maPoints));

//Swing legs
const swingPoints = [{ bar: swingLeadIn[0], price: swingLeadIn[1] }].concat(
  swingBars.map((bar, i) => ({ bar, price: swingPrices[i] }))
);
svg.append("g").selectAll("line").data(d3.pairs(swingPoints)).join("line")
  .attr("x1", (d) => x(d[0].bar)).attr("y1", (d) => y(d[0].price))
  .attr("x2", (d) => x(d[1].bar)).attr("y2", (d) => y(d[1].price))
  .attr("stroke", (d) => (d[1].price > d[0].price ? "#008000" : "#ff0000"))
  .attr("stroke-width", 2.5);

//Cross triangles
const triangle = d3.symbol().type(d3.symbolTriangle).size(75);
svg.append("g").selectAll("path").data(crossUpBars).join("path")
  .attr("d", triangle)
  .attr("transform", (d, i) => `translate(${x(d)},${y(crossUpPrices[i])})`)
  .attr("fill", "#008000");
svg.append("g").selectAll("path").data(crossDownBars).join("path")
  .attr("d", triangle)
  .attr("transform", (d, i) => `translate(${x(d)},${y(crossDownPrices[i])}) rotate(180)`)
  .attr("fill", "#ff0000");

//Swing labels
const swingColor = { LH: "#ff0000", LL: "#ff0000", HH: "#008000", HL: "#008000", DT: "#daa520" };
const swingLabels = svg.append("g")
  .attr("font-family", "'DejaVu Sans Mono', monospace").attr("font-size", 16.5)
  .attr("text-anchor", "middle").attr("dominant-baseline", "middle");
swingBars.forEach((bar, i) => {
  const tag = swingTags[i];
  const isHigh = tag === "LH" || tag === "HH" || tag === "DT";
  const py = y(swingPrices[i]);
  swingLabels.append("text").attr("x", x(bar)).attr("y", isHigh ? py - 36 : py + 32)
    .attr("fill", swingColor[tag]).text(tag);
  swingLabels.append("text").attr("x", x(bar)).attr("y", isHigh ? py - 17 : py + 13)
    .attr("fill", swingColor[tag]).text(swingMoves[i]);
});

//Efficiency ratio panel
const ratioPoints = ratioBars.map((bar, i) => ({ bar, value: ratioValues[i] }));
const isRed = (bar) => ratioRedBars.some((r) => bar >= r[0] && bar <= r[1]);
const ratioLevel = 24;
svg.append("g").selectAll("line").data(d3.pairs(ratioPoints)).join("line")
  .attr("x1", (d) => x(d[0].bar)).attr("y1", (d) => ratioY(d[0].value))
  .attr("x2", (d) => x(d[1].bar)).attr("y2", (d) => ratioY(d[1].value))
  .attr("stroke", (d) => {
    if ((d[0].value + d[1].value) / 2 < ratioLevel) return "#a0562d";
    return isRed(d[0].bar) ? "#ff0000" : "#008000";
  })
  .attr("stroke-width", 2.2).attr("stroke-dasharray", "6 2");
svg.append("path").attr("fill", "none").attr("stroke", "#000080").attr("stroke-width", 1.8)
  .attr("stroke-dasharray", "3 1")
  .attr("d", d3.line().curve(d3.curveMonotoneX).x((d, i) => x(d)).y((d, i) => ratioY(signalValues[i]))(signalBars));
hLine(ratioY(ratioLevel), "#000000", 4);

//Bar range panel
defs.append("clipPath").attr("id", "range-panel").append("rect")
  .attr("x", 0).attr("y", 1717).attr("width", chartRight).attr("height", 200);
svg.append("g").attr("clip-path", "url(#range-panel)")
  .selectAll("rect").data(barRangeValues).join("rect")
  .attr("x", (d, i) => x(i) - 3.5).attr("width", 7)
  .attr("y", (d) => rangeY(d) - 4).attr("height", 8)
  .attr("fill", "#2b8ad6");
svg.append("path").attr("fill", "none").attr("stroke", "#2fa290").attr("stroke-width", 3)
  .attr("d", d3.line().x((d) => x(d)).y((d, i) => rangeY(rangeEmaValues[i]))(rangeEmaBars));

//Axes
const priceAxis = d3.axisRight(y).tickValues(priceTicks).tickSize(0).tickPadding(6).tickFormat(d3.format(".2f"));
const rangeAxis = d3.axisRight(rangeY).tickValues([-5, 0, 5, 10, 15]).tickSize(4).tickPadding(4)
  .tickFormat((d) => (d < 10 ? d : ""));
const ratioAxis = d3.axisRight(ratioY).tickValues([0]).tickSize(0).tickPadding(6);
const timeAxis = d3.axisBottom(x).tickValues(timeTickBars).tickSize(6).tickPadding(10)
  .tickFormat((d, i) => timeTickLabels[i]);
const styleAxis = (g) => {
  g.select(".domain").remove();
  g.selectAll("text").attr("font-size", 24).attr("font-family", "'Liberation Sans', Arial, sans-serif").attr("fill", axisText);
  g.selectAll("line").attr("stroke", "#666666");
};
svg.append("g").attr("transform", `translate(${chartRight},0)`).call(priceAxis).call(styleAxis);
svg.append("g").attr("transform", `translate(${chartRight},0)`).call(rangeAxis).call(styleAxis);
svg.append("g").attr("transform", `translate(${chartRight},0)`).call(ratioAxis).call(styleAxis);
svg.append("g").attr("transform", "translate(0,1917)").call(timeAxis).call(styleAxis);
svg.append("line").attr("x1", chartRight).attr("x2", chartRight).attr("y1", 0).attr("y2", 1917)
  .attr("stroke", "#9aa3a3").attr("stroke-width", 1.5);

//Value boxes on the right axis
const valueBox = (yMid, halfHeight, fill, stroke) =>
  svg.append("path")
    .attr("d", `M${chartRight - 5},${yMid} L${chartRight + 1},${yMid - halfHeight} H${width} V${yMid + halfHeight} H${chartRight + 1} Z`)
    .attr("fill", fill).attr("stroke", stroke).attr("stroke-width", 1.5);
const boxText = (txt, yMid, fill) =>
  svg.append("text").attr("x", chartRight + 6).attr("y", yMid).attr("dominant-baseline", "middle")
    .attr("font-size", 24).attr("fill", fill).text(txt);
valueBox(y(6828.5), 16, "#000080", "#000080");
boxText("6828.50", y(6828.5), "#ffffff");
valueBox(y(6815.25), 16, "#000080", "#000080");
boxText("6815.25", y(6815.25), "#ffffff");
valueBox(y(closeLevel), 16, "#efeadb", "#9aa3a3");
boxText("6807.75", y(closeLevel), "#12303d");
valueBox(rangeY(8.98), 16, "#2aa190", "#2aa190");
svg.append("rect").attr("x", chartRight).attr("y", rangeY(8.98) - 18).attr("width", width - chartRight).attr("height", 3).attr("fill", "#2b8ad6");
boxText("8.98", rangeY(8.98), "#12303d");
svg.append("rect").attr("x", chartRight - 2).attr("y", 0).attr("width", width - chartRight + 2).attr("height", 30).attr("fill", "#808080");
svg.append("rect").attr("x", chartRight - 2).attr("y", 0).attr("width", width - chartRight + 2).attr("height", 18).attr("fill", "#000080");
svg.append("text").attr("x", chartRight + 6).attr("y", 9).attr("dominant-baseline", "middle")
  .attr("font-size", 24).attr("fill", "#ffffff").text("66.36");
[[3470, 4], [3470, 1718]].forEach((p) => {
  svg.append("rect").attr("x", p[0]).attr("y", p[1]).attr("width", 16).attr("height", 20)
    .attr("fill", "#efeadb").attr("stroke", "#b0b0a8");
  svg.append("text").attr("x", p[0] + 8).attr("y", p[1] + 15).attr("text-anchor", "middle")
    .attr("font-size", 15).attr("fill", "#777777").text("F");
});

//Titles and notes
const note = (txt, px, py, size, opts = {}) =>
  svg.append("text").attr("x", px).attr("y", py).attr("dominant-baseline", "middle")
    .attr("font-size", size)
    .attr("font-family", opts.serif ? "'Liberation Serif', serif" : "'Liberation Sans', Arial, sans-serif")
    .attr("font-weight", opts.bold ? "bold" : "normal")
    .attr("text-anchor", opts.anchor || "start")
    .attr("fill", opts.fill || "#000000")
    .text(txt);
note("amaEfficiencyRatio(ES 03-26 (6000 Tick),Balanced,0.75,10,10)", 4, 19, 24.5, { fill: axisText });
note("dpDATE(ES 03-26 (6000 Tick))", 4, 157, 24.5, { fill: axisText });
note("Pacific Time, March 2026 Contract,", 8, 178, 38, { serif: true, bold: true });
note("ES", 8, 222, 38, { serif: true, bold: true });
note("6000 Tick", 8, 266, 38, { serif: true, bold: true });
note("ama Moving Average Cross KAMA & EMA 21n,, Price Action Swing, Order Flow Volume Profile", 3374, 161, 24.5, { serif: true, bold: true, anchor: "end" });
note("Bar Range and 21n EMA  both in POINTS,", 8, 1693, 26, { serif: true, bold: true });
note("ATR: 37", 3374, 1693, 26, { anchor: "end", fill: "#12303d" });
note("4913  38", 3289, 1544, 21, { fill: "#4a5c60" });
note("\u00a9 2026 NinjaTrader, LLC", 4, 1898, 24, { fill: axisText });
note("ES 03-26 ES 03-26 6000 Tick", 4, 1967, 10.5, { fill: "#555555" });
note("NINJATRADER", 3372, 1965, 15.5, { fill: "#e8482a", bold: true });
note("\u03a3: 1722K / 89.00", 16, 1550, 13, { fill: "#3f8a4a" });
note("\u03a3: 183K / 44.50", x(228.3) + 2, 1073, 13, { fill: "#3f8a4a" });
note("\u03a3: 443K / 66.75", x(254.2) + 1, 1635, 13, { fill: "#3f8a4a" });
dayNames.forEach((name, i) => {
  note(name, x(dayBars[i]), 1526, 20.5);
  note(dayDates[i], x(dayBars[i]), 1548, 20.5);
});
</script>
</body>
</html>
